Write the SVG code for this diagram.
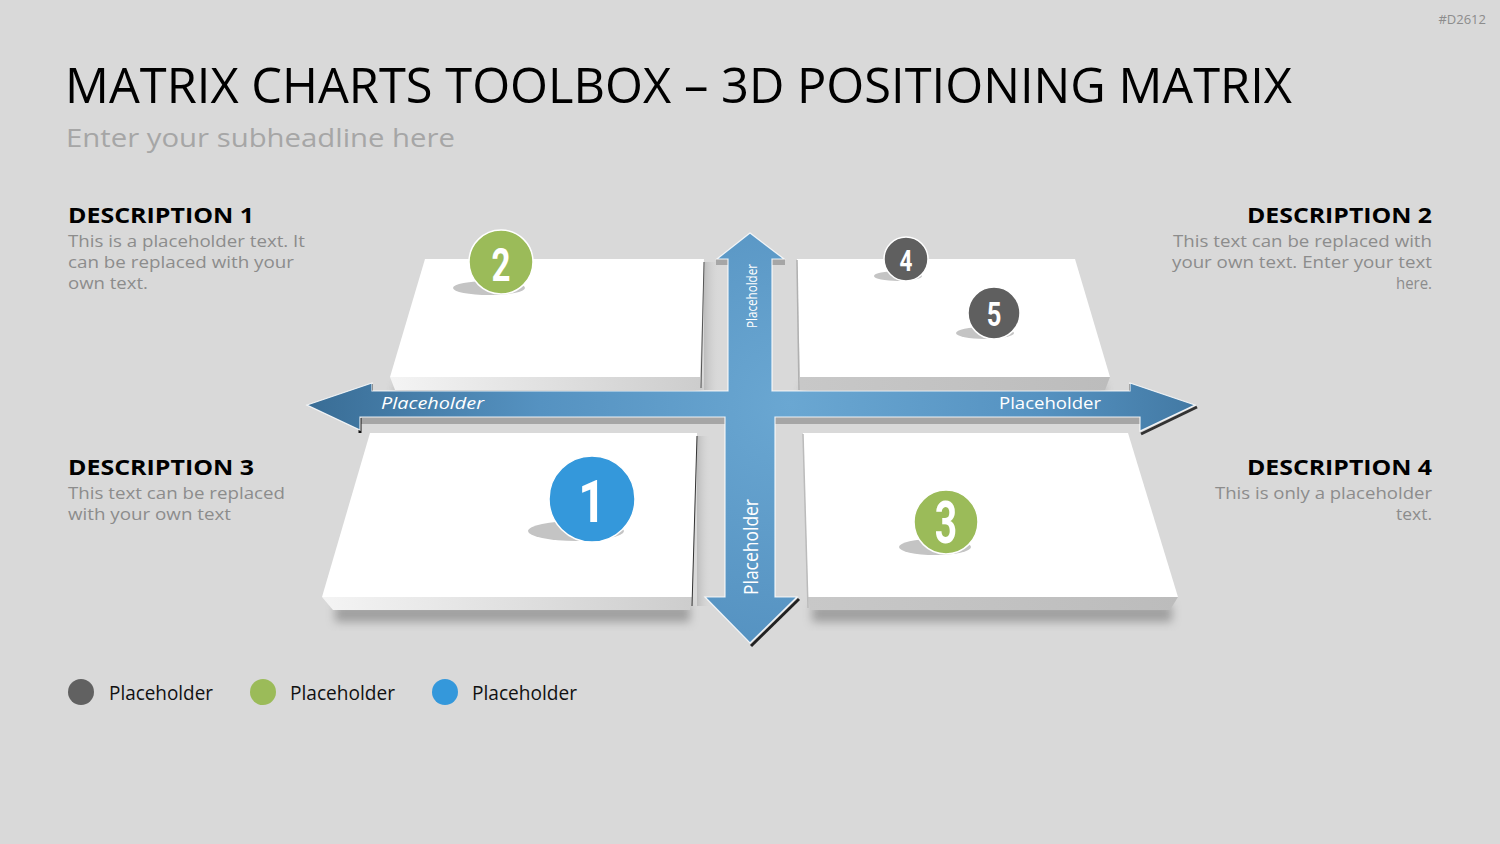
<svg xmlns="http://www.w3.org/2000/svg" width="1500" height="844" viewBox="0 0 1500 844">
<defs>
<style>
.t{font-family:"Open Sans","Liberation Sans",sans-serif}
.h{font-family:"Open Sans","Liberation Sans",sans-serif;font-weight:bold;font-size:22px;fill:#000}
.b{font-family:"Open Sans","Liberation Sans",sans-serif;font-size:17px;fill:#8c8c8c}
.num{font-family:Roboto,"Liberation Sans",sans-serif;font-weight:bold;fill:#fff;text-anchor:middle}
.lbl{font-family:"Open Sans","Liberation Sans",sans-serif;fill:#fff}
.sh{fill:#c4c4c4}
.top{fill:#fff}
</style>
<radialGradient id="arr" gradientUnits="userSpaceOnUse" cx="790" cy="404" r="500">
<stop offset="0" stop-color="#6aa7d2"/>
<stop offset="0.5" stop-color="#5592c1"/>
<stop offset="1" stop-color="#376a92"/>
</radialGradient>
<linearGradient id="frontL" x1="0" y1="0" x2="1" y2="0">
<stop offset="0" stop-color="#f4f4f4"/>
<stop offset="1" stop-color="#cdcdcd"/>
</linearGradient>
<linearGradient id="frontR" x1="0" y1="0" x2="1" y2="0">
<stop offset="0" stop-color="#c8c8c8"/>
<stop offset="1" stop-color="#bcbcbc"/>
</linearGradient>
<linearGradient id="sideShade" x1="0" y1="0" x2="1" y2="0">
<stop offset="0" stop-color="#bdbdbd"/>
<stop offset="1" stop-color="#d9d9d9" stop-opacity="0"/>
</linearGradient>
<filter id="blur" x="-20%" y="-50%" width="140%" height="200%">
<feGaussianBlur stdDeviation="5"/>
</filter>
</defs>
<rect width="1500" height="844" fill="#d9d9d9"/>

<text x="1486" y="24" class="t" font-size="13" fill="#8c8c8c" text-anchor="end">#D2612</text>
<text x="65" y="103" class="t" font-size="50" fill="#000" textLength="1227" lengthAdjust="spacingAndGlyphs">MATRIX CHARTS TOOLBOX – 3D POSITIONING MATRIX</text>
<text x="66" y="147" class="t" font-size="26" fill="#a6a6a6" textLength="389" lengthAdjust="spacingAndGlyphs">Enter your subheadline here</text>

<g id="desc1">
<text x="68" y="223" class="h" textLength="186" lengthAdjust="spacingAndGlyphs">DESCRIPTION 1</text>
<text x="68" y="247" class="b" textLength="237" lengthAdjust="spacingAndGlyphs">This is a placeholder text. It</text>
<text x="68" y="268" class="b" textLength="226" lengthAdjust="spacingAndGlyphs">can be replaced with your</text>
<text x="68" y="289" class="b" textLength="80" lengthAdjust="spacingAndGlyphs">own text.</text>
</g>
<g id="desc2">
<text x="1247" y="223" class="h" textLength="185" lengthAdjust="spacingAndGlyphs">DESCRIPTION 2</text>
<text x="1173" y="247" class="b" textLength="259" lengthAdjust="spacingAndGlyphs">This text can be replaced with</text>
<text x="1172" y="268" class="b" textLength="260" lengthAdjust="spacingAndGlyphs">your own text. Enter your text</text>
<text x="1396" y="289" class="b" textLength="36" lengthAdjust="spacingAndGlyphs">here.</text>
</g>
<g id="desc3">
<text x="68" y="475" class="h" textLength="186" lengthAdjust="spacingAndGlyphs">DESCRIPTION 3</text>
<text x="68" y="499" class="b" textLength="217" lengthAdjust="spacingAndGlyphs">This text can be replaced</text>
<text x="68" y="520" class="b" textLength="163" lengthAdjust="spacingAndGlyphs">with your own text</text>
</g>
<g id="desc4">
<text x="1247" y="475" class="h" textLength="185" lengthAdjust="spacingAndGlyphs">DESCRIPTION 4</text>
<text x="1215" y="499" class="b" textLength="217" lengthAdjust="spacingAndGlyphs">This is only a placeholder</text>
<text x="1396" y="520" class="b" textLength="36" lengthAdjust="spacingAndGlyphs">text.</text>
</g>

<!-- panels -->
<g id="panel-tl">
<polygon points="395,385 700,385 700,396 395,396" fill="#777" opacity="0.45" filter="url(#blur)"/>
<rect x="704" y="262" width="16" height="128" fill="url(#sideShade)"/>
<polygon points="390,377 700,377 700,390 395,390" fill="url(#frontL)"/>
<polygon points="425,259 704,259 700,377 390,377" class="top"/>
<line x1="704" y1="262" x2="701" y2="388" stroke="#555" stroke-width="1"/>
</g>
<g id="panel-tr">
<polygon points="802,385 1105,385 1105,396 802,396" fill="#777" opacity="0.45" filter="url(#blur)"/>
<polygon points="800,377 1110,377 1105,390 800,390" fill="url(#frontR)"/>
<polygon points="797,259 1075,259 1110,377 800,377" class="top"/>
<line x1="797" y1="260" x2="799" y2="390" stroke="#b0b0b0" stroke-width="1.5"/>
</g>
<g id="panel-bl">
<polygon points="335,605 690,605 690,622 335,622" fill="#666" opacity="0.5" filter="url(#blur)"/>
<rect x="697" y="436" width="14" height="170" fill="url(#sideShade)"/>
<polygon points="322,597 692,597 690,610 333,610" fill="url(#frontL)"/>
<polygon points="370,433 697,433 692,597 322,597" class="top"/>
<line x1="697" y1="436" x2="692" y2="606" stroke="#333" stroke-width="1"/>
</g>
<g id="panel-br">
<polygon points="812,605 1172,605 1172,622 812,622" fill="#666" opacity="0.5" filter="url(#blur)"/>
<polygon points="808,597 1178,597 1170,610 810,610" fill="url(#frontR)"/>
<polygon points="803,433 1128,433 1178,597 808,597" class="top"/>
<line x1="803" y1="434" x2="808" y2="608" stroke="#bbb" stroke-width="1.5"/>
</g>

<!-- cross arrows -->
<g id="connectors">
<rect x="360" y="417" width="365" height="7" fill="#a6a6a6"/>
<rect x="775" y="417" width="365" height="7" fill="#a6a6a6"/>
<rect x="716" y="259" width="12" height="6" fill="#a6a6a6"/>
<rect x="772" y="259" width="13" height="6" fill="#a6a6a6"/>
<polyline points="1197,407 1141,434" fill="none" stroke="#333" stroke-width="3"/>
<polyline points="799,599 751,646" fill="none" stroke="#222" stroke-width="3"/>
<polyline points="360,418 360,433" fill="none" stroke="#111" stroke-width="3"/>
<polyline points="372,384 372,391" fill="none" stroke="#222" stroke-width="2"/>
<polyline points="1130,384 1130,391" fill="none" stroke="#444" stroke-width="2"/>
<polygon points="750,233 784,259 772,259 772,391 1130,391 1130,383 1195,405 1140,431 1140,417 775,417 775,597 797,597 750,643 705,597 725,597 725,417 360,417 360,430 307,405 372,383 372,391 728,391 728,259 717,259" fill="url(#arr)" stroke="#ffffff" stroke-width="1.2" stroke-opacity="0.85" stroke-linejoin="miter"/>
<text class="lbl" x="381" y="409" font-size="16" font-style="italic" textLength="103" lengthAdjust="spacingAndGlyphs">Placeholder</text>
<text class="lbl" x="999" y="409" font-size="16" textLength="102" lengthAdjust="spacingAndGlyphs">Placeholder</text>
<text class="lbl" font-size="15" text-anchor="middle" transform="translate(757,296) rotate(-90)" textLength="64" lengthAdjust="spacingAndGlyphs">Placeholder</text>
<text class="lbl" font-size="20" text-anchor="middle" transform="translate(758,547) rotate(-90)" textLength="96" lengthAdjust="spacingAndGlyphs">Placeholder</text>
</g>

<!-- markers -->
<g id="marker-2">
<ellipse cx="489" cy="288" rx="36" ry="7" class="sh"/>
<circle cx="501" cy="262" r="32" fill="#9bbb59" stroke="#fff" stroke-width="1.5"/>
<text class="num" font-size="46" transform="translate(501,281) scale(0.72,1)">2</text>
</g>
<g id="marker-4">
<ellipse cx="898" cy="276" rx="24" ry="5" class="sh"/>
<circle cx="906" cy="259" r="22" fill="#5f5f5f" stroke="#fff" stroke-width="1.5"/>
<text class="num" font-size="30" transform="translate(906,271) scale(0.75,1)">4</text>
</g>
<g id="marker-5">
<ellipse cx="985" cy="333" rx="29" ry="6" class="sh"/>
<circle cx="994" cy="313" r="26" fill="#5f5f5f" stroke="#fff" stroke-width="1.5"/>
<text class="num" font-size="34" transform="translate(994,326) scale(0.75,1)">5</text>
</g>
<g id="marker-1">
<ellipse cx="576" cy="531" rx="48" ry="10" class="sh"/>
<circle cx="592" cy="499" r="43" fill="#3498db" stroke="#fff" stroke-width="1.5"/>
<text class="num" font-size="60" transform="translate(592,522) scale(0.8,1)">1</text>
</g>
<g id="marker-3">
<ellipse cx="935" cy="547" rx="36" ry="8" class="sh"/>
<circle cx="946" cy="522" r="32" fill="#9bbb59" stroke="#fff" stroke-width="1.5"/>
<text class="num" font-size="60" transform="translate(946,543) scale(0.65,1)">3</text>
</g>

<!-- legend -->
<g id="legend">
<circle cx="81" cy="692" r="13" fill="#616161"/>
<text x="109" y="700" class="t" font-size="20" fill="#111" textLength="104" lengthAdjust="spacingAndGlyphs">Placeholder</text>
<circle cx="263" cy="692" r="13" fill="#9bbb59"/>
<text x="290" y="700" class="t" font-size="20" fill="#111" textLength="105" lengthAdjust="spacingAndGlyphs">Placeholder</text>
<circle cx="445" cy="692" r="13" fill="#3498db"/>
<text x="472" y="700" class="t" font-size="20" fill="#111" textLength="105" lengthAdjust="spacingAndGlyphs">Placeholder</text>
</g>
</svg>
